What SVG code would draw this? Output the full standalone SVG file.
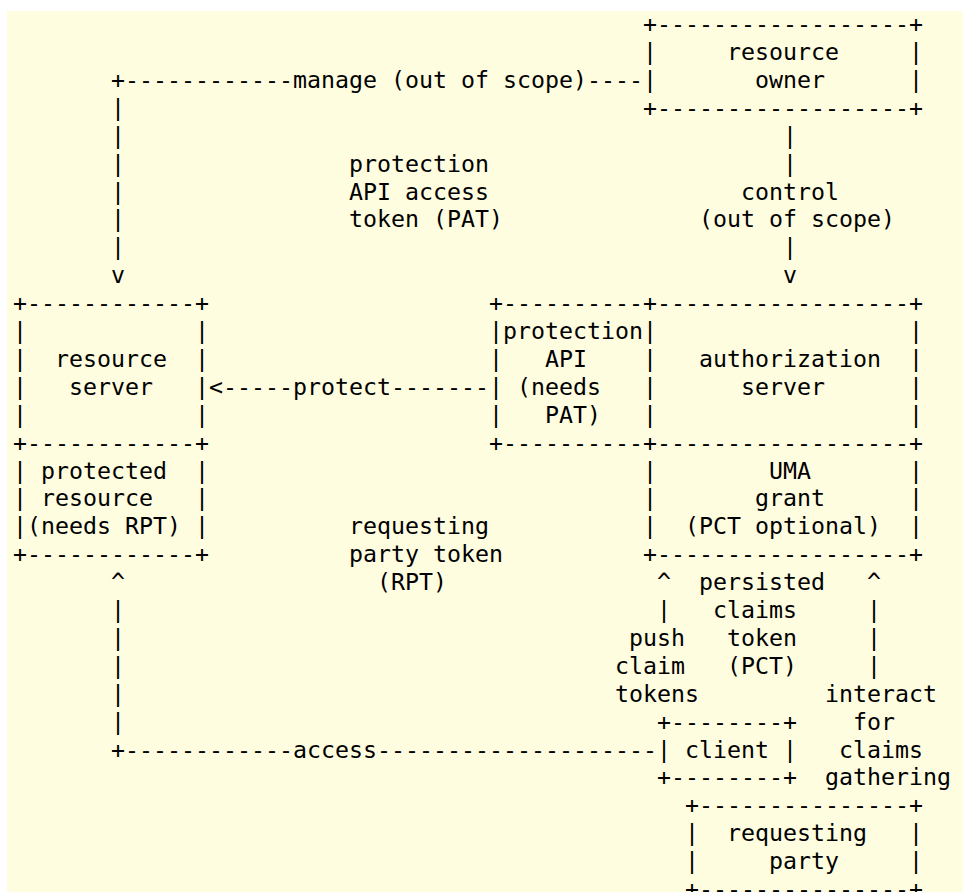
<svg xmlns="http://www.w3.org/2000/svg" width="963" height="892" viewBox="0 0 963 892" xml:space="preserve">
<style>
text { font-family: "DejaVu Sans Mono", "Liberation Mono", monospace; font-size: 23.25px; fill: #000; white-space: pre; }
</style>
<rect x="7" y="11" width="956" height="881" fill="#fffde0"/>
<g id="connectors">
  <text x="111" y="87.9">+------------manage (out of scope)----</text>
  <text x="111" y="115.8">|</text>
  <text x="111" y="143.7">|</text>
  <text x="111" y="171.6">|</text>
  <text x="111" y="199.5">|</text>
  <text x="111" y="227.4">|</text>
  <text x="111" y="255.3">|</text>
  <text x="111" y="283.2">v</text>
  <text x="349" y="171.6">protection</text>
  <text x="349" y="199.5">API access</text>
  <text x="349" y="227.4">token (PAT)</text>
  <text x="783" y="143.7">|</text>
  <text x="783" y="171.6">|</text>
  <text x="741" y="199.5">control</text>
  <text x="699" y="227.4">(out of scope)</text>
  <text x="783" y="255.3">|</text>
  <text x="783" y="283.2">v</text>
  <text x="209" y="394.8">&lt;-----protect-------</text>
  <text x="349" y="534.3">requesting</text>
  <text x="349" y="562.2">party token</text>
  <text x="377" y="590.1">(RPT)</text>
  <text x="111" y="590.1">^</text>
  <text x="111" y="618.0">|</text>
  <text x="111" y="645.9">|</text>
  <text x="111" y="673.8">|</text>
  <text x="111" y="701.7">|</text>
  <text x="111" y="729.6">|</text>
  <text x="111" y="757.5">+------------access--------------------</text>
  <text x="657" y="590.1">^  persisted   ^</text>
  <text x="657" y="618.0">|   claims     |</text>
  <text x="629" y="645.9">push   token     |</text>
  <text x="615" y="673.8">claim   (PCT)     |</text>
  <text x="615" y="701.7">tokens         interact</text>
  <text x="853" y="729.6">for</text>
  <text x="839" y="757.5">claims</text>
  <text x="825" y="785.4">gathering</text>
</g>
<g id="resource-owner">
  <text x="643" y="32.1">+------------------+</text>
  <text x="643" y="60.0">|     resource     |</text>
  <text x="643" y="87.9">|       owner      |</text>
  <text x="643" y="115.8">+------------------+</text>
</g>
<g id="resource-server">
  <text x="13" y="311.1">+------------+</text>
  <text x="13" y="339.0">|            |</text>
  <text x="13" y="366.9">|  resource  |</text>
  <text x="13" y="394.8">|   server   |</text>
  <text x="13" y="422.7">|            |</text>
  <text x="13" y="450.6">+------------+</text>
</g>
<g id="protected-resource">
  <text x="13" y="478.5">| protected  |</text>
  <text x="13" y="506.4">| resource   |</text>
  <text x="13" y="534.3">|(needs RPT) |</text>
  <text x="13" y="562.2">+------------+</text>
</g>
<g id="protection-api">
  <text x="489" y="311.1">+----------+</text>
  <text x="489" y="339.0">|protection|</text>
  <text x="489" y="366.9">|   API    |</text>
  <text x="489" y="394.8">| (needs   |</text>
  <text x="489" y="422.7">|   PAT)   |</text>
  <text x="489" y="450.6">+----------+</text>
</g>
<g id="authorization-server">
  <text x="657" y="311.1">------------------+</text>
  <text x="657" y="339.0">                  |</text>
  <text x="657" y="366.9">   authorization  |</text>
  <text x="657" y="394.8">      server      |</text>
  <text x="657" y="422.7">                  |</text>
  <text x="657" y="450.6">------------------+</text>
</g>
<g id="uma-grant">
  <text x="643" y="478.5">|        UMA       |</text>
  <text x="643" y="506.4">|       grant      |</text>
  <text x="643" y="534.3">|  (PCT optional)  |</text>
  <text x="643" y="562.2">+------------------+</text>
</g>
<g id="client">
  <text x="657" y="729.6">+--------+</text>
  <text x="657" y="757.5">| client |</text>
  <text x="657" y="785.4">+--------+</text>
</g>
<g id="requesting-party">
  <text x="685" y="813.3">+---------------+</text>
  <text x="685" y="841.2">|  requesting   |</text>
  <text x="685" y="869.1">|     party     |</text>
  <text x="685" y="897.0">+---------------+</text>
</g>
</svg>
